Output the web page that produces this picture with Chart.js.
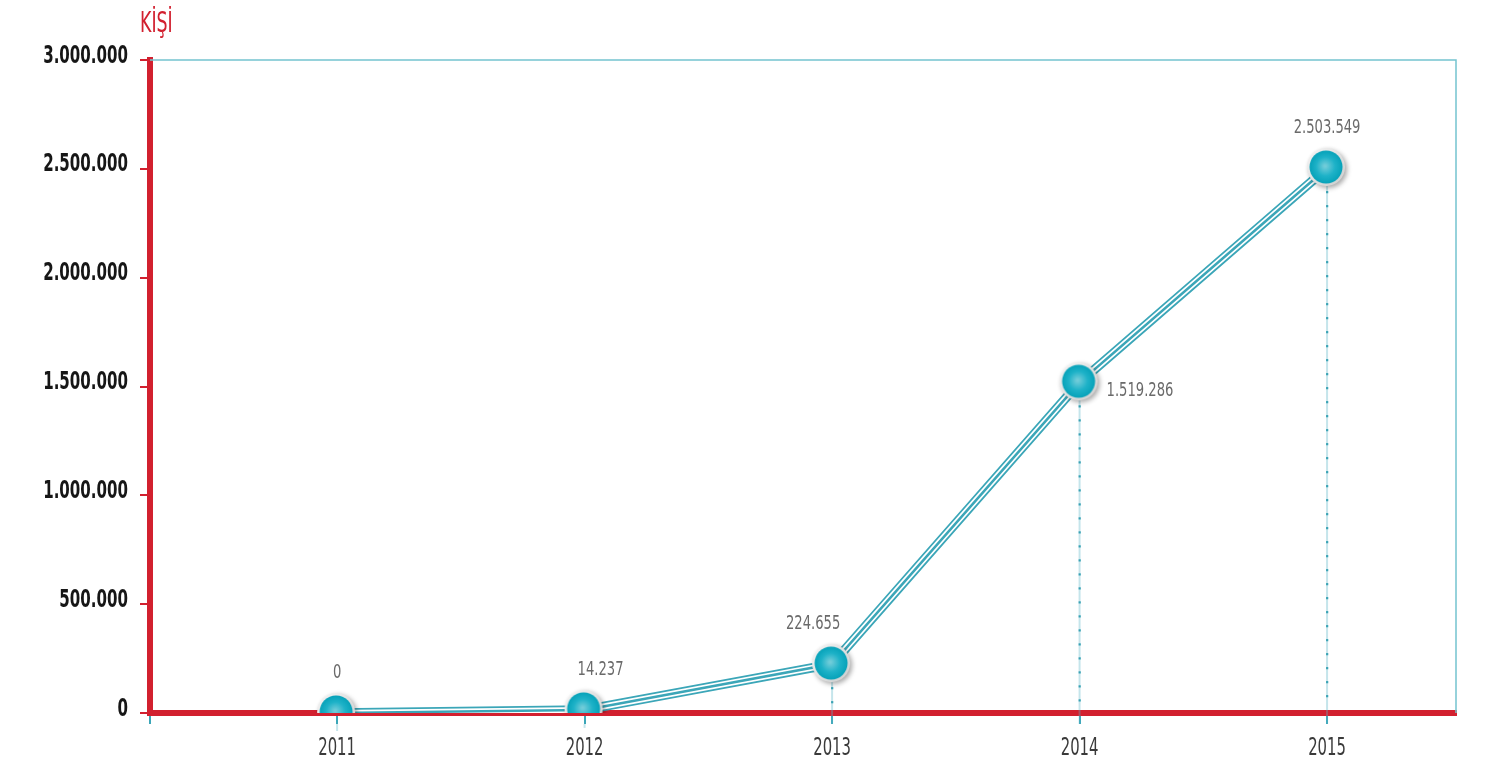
<!DOCTYPE html>
<html>
<head>
<meta charset="utf-8">
<script src="https://cdn.jsdelivr.net/npm/chart.js"></script>
<style>
  html, body { margin: 0; padding: 0; background: #fff; }
  #wrap { width: 1503px; height: 767px; }
</style>
</head>
<body>
<div id="wrap"><canvas id="kisiChart" width="1503" height="767"></canvas></div>
<script>
// Data
const years = [2011, 2012, 2013, 2014, 2015];
const people = [0, 14237, 224655, 1519286, 2503549];
const yTicks = [0, 500000, 1000000, 1500000, 2000000, 2500000, 3000000];
const yTitle = 'KİŞİ';

// where each value label sits relative to its point
const labelSide = ['top', 'top', 'top', 'right', 'top'];
const labelShift = [0, 16, -19, 0, 0];

const RED = '#d2202f';
const TEAL = '#3ba6b8';
const FONT = "'DejaVu Sans Condensed', 'DejaVu Sans', sans-serif";

const fmt = v => String(v).replace(/\B(?=(\d{3})+(?!\d))/g, '.');

// narrow text, to get close to the condensed face of the original
function narrowText(ctx, txt, x, y, font, color, align, sx, baseline) {
  ctx.save();
  ctx.font = font;
  ctx.fillStyle = color;
  ctx.textAlign = align;
  ctx.textBaseline = baseline || 'middle';
  ctx.translate(x, y);
  ctx.scale(sx, 1);
  ctx.fillText(txt, 0, 0);
  ctx.restore();
}

// Build the glossy point marker once
function makeMarker() {
  const c = document.createElement('canvas');
  c.width = 52; c.height = 52;
  const g = c.getContext('2d');
  const cx = 25, cy = 25;
  g.save();
  g.shadowColor = 'rgba(0,0,0,0.35)';
  g.shadowBlur = 5;
  g.shadowOffsetX = 2;
  g.shadowOffsetY = 2;
  const ring = g.createLinearGradient(cx - 19, cy - 19, cx + 19, cy + 19);
  ring.addColorStop(0, '#f6f6f6');
  ring.addColorStop(1, '#cdcdcd');
  g.fillStyle = ring;
  g.beginPath(); g.arc(cx, cy, 19, 0, Math.PI * 2); g.fill();
  g.restore();
  const fill = g.createRadialGradient(cx - 1, cy - 1, 1, cx, cy, 16.5);
  fill.addColorStop(0, '#70ccd9');
  fill.addColorStop(0.55, '#1eb2c8');
  fill.addColorStop(1, '#06a2b9');
  g.fillStyle = fill;
  g.beginPath(); g.arc(cx, cy, 16.5, 0, Math.PI * 2); g.fill();
  return c;
}
const marker = makeMarker();

const points = years.map((y, i) => ({ x: y, y: people[i] }));

// teal frame on the top and right, dotted drop lines, labels, title
const decor = {
  id: 'decor',
  beforeDatasetsDraw(chart) {
    const { ctx, chartArea: a } = chart;
    ctx.save();
    ctx.strokeStyle = '#74c3cf';
    ctx.lineWidth = 1.5;
    ctx.beginPath();
    ctx.moveTo(a.left, a.top);
    ctx.lineTo(a.right, a.top);
    ctx.lineTo(a.right, a.bottom);
    ctx.stroke();

    const meta = chart.getDatasetMeta(0);
    meta.data.forEach(p => {
      const y0 = p.y + 18, y1 = a.bottom + 11;
      ctx.strokeStyle = 'rgba(90,180,198,0.35)';
      ctx.lineWidth = 2;
      ctx.beginPath(); ctx.moveTo(p.x, y0); ctx.lineTo(p.x, y1); ctx.stroke();
      ctx.fillStyle = '#3aa2b4';
      for (let y = y0 + 6; y < a.bottom - 4; y += 14) {
        ctx.fillRect(p.x - 1, y - 1, 2.2, 2.2);
      }
    });
    ctx.restore();
  },
  afterDraw(chart) {
    const { ctx, chartArea: a, scales } = chart;

    // axis labels
    scales.y.ticks.forEach(t => {
      narrowText(ctx, fmt(t.value), a.left - 22, scales.y.getPixelForValue(t.value) - 4,
        'bold 25px ' + FONT, '#161616', 'right', 0.67);
    });
    years.forEach(yr => {
      narrowText(ctx, String(yr), scales.x.getPixelForValue(yr), a.bottom + 35,
        '25px ' + FONT, '#3a3a3a', 'center', 0.66);
    });

    // value labels
    const meta = chart.getDatasetMeta(0);
    meta.data.forEach((p, i) => {
      const txt = fmt(people[i]);
      if (labelSide[i] === 'right') {
        narrowText(ctx, txt, p.x + 27 + labelShift[i], p.y + 8, '20px ' + FONT, '#6a6a6a', 'left', 0.73);
      } else {
        narrowText(ctx, txt, p.x + labelShift[i], p.y - 40, '20px ' + FONT, '#6a6a6a', 'center', 0.73);
      }
    });

    // unit title
    narrowText(ctx, yTitle, a.left - 10, a.top - 28, '28px ' + FONT, RED, 'left', 0.69, 'alphabetic');
  }
};

const ctx = document.getElementById('kisiChart').getContext('2d');

new Chart(ctx, {
  type: 'line',
  data: {
    datasets: [
      // markers on top
      { data: points, showLine: false, pointStyle: marker, pointRadius: 19, order: 0 },
      // triple stripe line: teal / white / teal layered
      { data: points, borderColor: TEAL, borderWidth: 2.5, pointRadius: 0, order: 1 },
      { data: points, borderColor: '#ffffff', borderWidth: 6, pointRadius: 0, order: 2 },
      { data: points, borderColor: TEAL, borderWidth: 9.5, pointRadius: 0, order: 3 },
    ],
  },
  options: {
    responsive: false,
    animation: false,
    events: [],
    devicePixelRatio: 1,
    layout: { padding: { top: 60, right: 47, left: 0, bottom: 0 } },
    plugins: { legend: { display: false }, tooltip: { enabled: false } },
    scales: {
      x: {
        type: 'linear',
        bounds: 'data',
        min: 2010.244,
        max: 2015.521,
        afterBuildTicks: s => { s.ticks = [{ value: s.min }].concat(years.map(v => ({ value: v }))); },
        afterFit: s => { s.height = 54; },
        ticks: {
          autoSkip: false,
          maxRotation: 0,
          padding: 11,
          color: 'rgba(0,0,0,0)',
          font: { family: FONT, size: 22 },
          callback: v => (Number.isInteger(v) ? String(v) : ''),
        },
        grid: { drawOnChartArea: false, drawTicks: true, tickLength: 11, color: TEAL, lineWidth: 2 },
        border: { display: true, color: RED, width: 6 },
      },
      y: {
        min: 0,
        max: 3000000,
        afterBuildTicks: s => { s.ticks = yTicks.map(v => ({ value: v })); },
        afterFit: s => { s.width = 150; },
        ticks: {
          padding: 11,
          color: 'rgba(0,0,0,0)',
          font: { family: FONT, size: 23, weight: 'bold' },
          callback: v => fmt(v),
        },
        grid: { drawOnChartArea: false, drawTicks: true, tickLength: 10, color: RED, lineWidth: 2 },
        border: { display: true, color: RED, width: 6 },
      },
    },
  },
  plugins: [decor],
});
</script>
</body>
</html>
